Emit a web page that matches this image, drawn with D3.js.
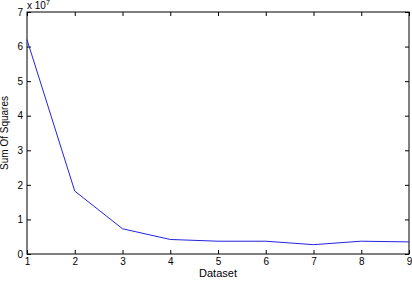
<!DOCTYPE html>
<html>
<head>
<meta charset="utf-8">
<script src="https://cdn.jsdelivr.net/npm/d3@7"></script>
<style>
  body { margin: 0; background: #fff; }
  svg { font-family: "Liberation Sans", Arial, sans-serif; }
</style>
</head>
<body>
<svg id="chart" width="412" height="281"></svg>
<script>
// values in units of 10^7
const datasets = [1, 2, 3, 4, 5, 6, 7, 8, 9]
const sumOfSquares = [6.2, 1.82, 0.73, 0.42, 0.37, 0.37, 0.27, 0.37, 0.35]
const yTicks = [0, 1, 2, 3, 4, 5, 6, 7]

const svg = d3.select('#chart')
const plotLeft = 27, plotRight = 409, plotTop = 12, plotBottom = 254
const tickLen = 4

const x = d3.scaleLinear().domain([1, 9]).range([plotLeft, plotRight])
const y = d3.scaleLinear().domain([0, 7]).range([plotBottom, plotTop])

// frame
svg.append('rect')
    .attr('x', plotLeft).attr('y', plotTop)
    .attr('width', plotRight - plotLeft).attr('height', plotBottom - plotTop)
    .attr('fill', 'none').attr('stroke', '#000').attr('stroke-width', 1)

// bottom axis, ticks pointing in
svg.append('g')
    .attr('transform', `translate(0,${plotBottom})`)
    .call(d3.axisBottom(x).tickValues(datasets).tickSize(-tickLen).tickPadding(4).tickFormat(d3.format('d')))
    .call(g => g.select('.domain').remove())
    .call(g => g.selectAll('text').attr('font-size', 10).attr('font-family', null))

// top ticks
svg.append('g')
    .attr('transform', `translate(0,${plotTop})`)
    .call(d3.axisTop(x).tickValues(datasets).tickSize(-tickLen).tickFormat(''))
    .call(g => g.select('.domain').remove())

// left axis
svg.append('g')
    .attr('transform', `translate(${plotLeft},0)`)
    .call(d3.axisLeft(y).tickValues(yTicks).tickSize(-tickLen).tickPadding(4).tickFormat(d3.format('d')))
    .call(g => g.select('.domain').remove())
    .call(g => g.selectAll('text').attr('font-size', 10).attr('font-family', null))

// right ticks
svg.append('g')
    .attr('transform', `translate(${plotRight},0)`)
    .call(d3.axisRight(y).tickValues(yTicks).tickSize(-tickLen).tickFormat(''))
    .call(g => g.select('.domain').remove())

// line
const line = d3.line()
    .x((d, i) => x(datasets[i]))
    .y(d => y(d))

svg.append('path')
    .datum(sumOfSquares)
    .attr('d', line)
    .attr('fill', 'none')
    .attr('stroke', '#2323e0')
    .attr('stroke-width', 1)

// exponent label
const expo = svg.append('text')
    .attr('x', 27).attr('y', 9)
    .attr('font-size', 10)
expo.append('tspan').text('x 10')
expo.append('tspan').attr('font-size', 7).attr('dy', -4).text('7')

// axis titles
svg.append('text')
    .attr('x', (plotLeft + plotRight) / 2).attr('y', 277)
    .attr('text-anchor', 'middle')
    .attr('font-size', 11)
    .text('Dataset')

svg.append('text')
    .attr('transform', `translate(8,${(plotTop + plotBottom) / 2}) rotate(-90)`)
    .attr('text-anchor', 'middle')
    .attr('font-size', 10)
    .text('Sum Of Squares')
</script>
</body>
</html>
